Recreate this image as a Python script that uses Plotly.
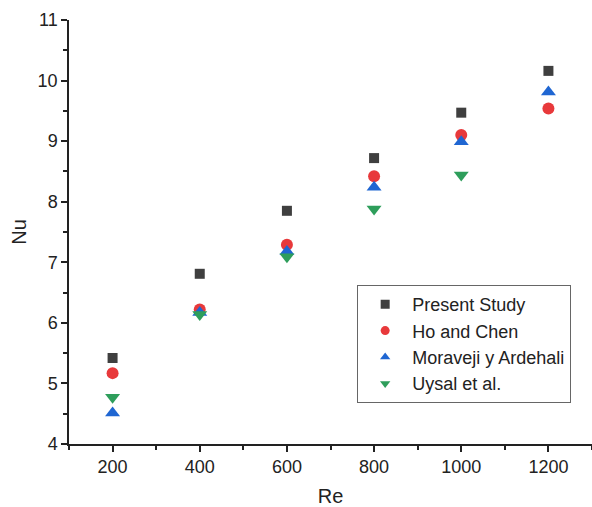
import plotly.graph_objects as go

# Reynolds numbers
re_vals = [200, 400, 600, 800, 1000, 1200]

# Nusselt numbers per source
nu_present = [5.42, 6.81, 7.85, 8.72, 9.47, 10.16]
nu_ho_chen = [5.17, 6.22, 7.29, 8.42, 9.10, 9.54]
nu_moraveji = [4.51, 6.17, 7.18, 8.24, 8.99, 9.81]
re_uysal = [200, 400, 600, 800, 1000]
nu_uysal = [4.77, 6.14, 7.09, 7.88, 8.44]

names = ["Present Study", "Ho and Chen", "Moraveji y Ardehali", "Uysal et al."]
symbols = ["square", "circle", "triangle-up", "triangle-down"]
colors = ["#3f3f3f", "#e8393b", "#1f66d2", "#2e9e5b"]
sizes = [10, 12, 13, 13]

FONT = "Liberation Sans, Arial, sans-serif"

series = [(re_vals, nu_present), (re_vals, nu_ho_chen), (re_vals, nu_moraveji), (re_uysal, nu_uysal)]

fig = go.Figure()
for (xs, ys), name, sym, col, sz in zip(series, names, symbols, colors, sizes):
    fig.add_trace(go.Scatter(x=xs, y=ys, mode="markers", name=name, showlegend=False,
                             marker=dict(symbol=sym, size=sz, color=col)))
# legend entries use smaller symbols, like the original
for name, sym, col in zip(names, symbols, colors):
    fig.add_trace(go.Scatter(x=[None], y=[None], mode="markers", name=name,
                             marker=dict(symbol=sym, size=9, color=col)))

axis_common = dict(
    showline=True, linecolor="#222", linewidth=1.5,
    ticks="outside", ticklen=6, tickwidth=1.5, tickcolor="#222",
    showgrid=False, zeroline=False, automargin=False,
    tickfont=dict(family=FONT, size=18, color="#222"),
)

fig.update_layout(
    width=592, height=507,
    margin=dict(l=69, r=0, t=20, b=63),
    paper_bgcolor="white", plot_bgcolor="white",
    font=dict(family=FONT, color="#222"),
    xaxis=dict(range=[100, 1300], dtick=200, tick0=200,
               minor=dict(ticks="outside", ticklen=4, dtick=100, tick0=100, tickcolor="#222"),
               title=dict(text="Re", font=dict(family=FONT, size=20), standoff=18),
               **axis_common),
    yaxis=dict(range=[4, 11], dtick=1,
               minor=dict(ticks="outside", ticklen=4, dtick=0.5, tickcolor="#222"),
               title=dict(text="Nu", font=dict(family=FONT, size=20), standoff=6),
               **axis_common),
    legend=dict(x=0.551, y=0.375, xanchor="left", yanchor="top",
                bordercolor="#666", borderwidth=1, bgcolor="white",
                font=dict(family=FONT, size=18, color="#222"),
                tracegroupgap=0, itemwidth=44),
    showlegend=True,
)

fig.write_html("out.html", config={"displayModeBar": False},
               post_script="document.body.style.margin='0';")
